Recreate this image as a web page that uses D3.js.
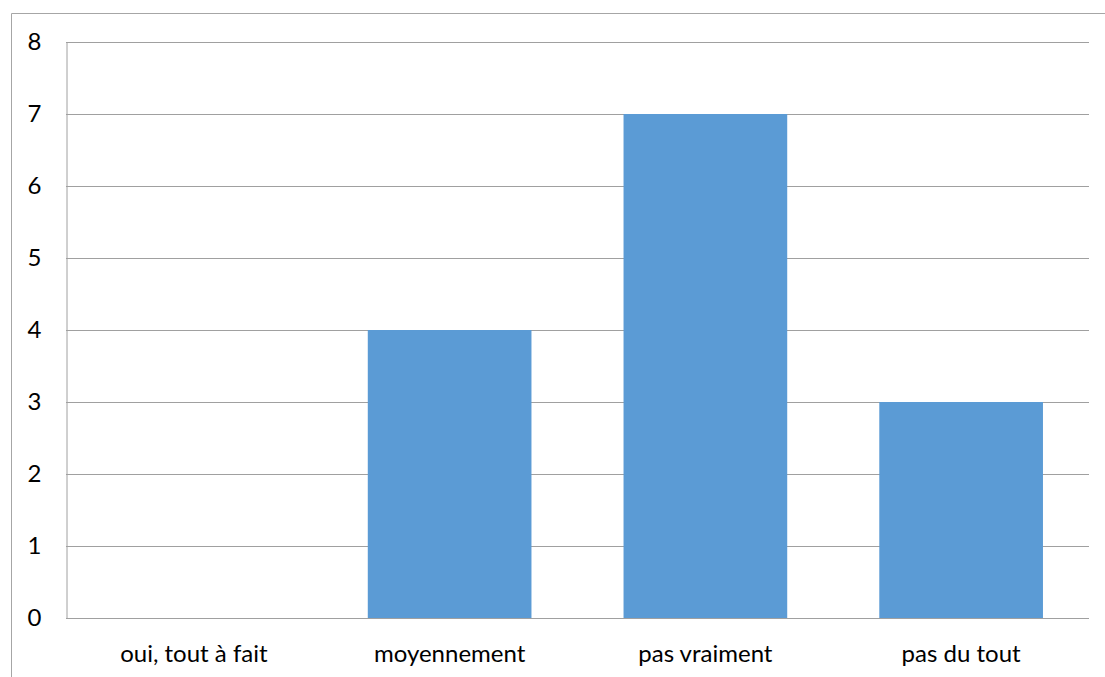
<!DOCTYPE html>
<html>
<head>
<meta charset="utf-8">
<script src="https://cdn.jsdelivr.net/npm/d3@7"></script>
<style>
  html, body { margin: 0; padding: 0; background: #fff; }
  svg { display: block; }
  text { font-family: Lato, "Open Sans", sans-serif; fill: #000; }
</style>
</head>
<body>
<svg id="chart" width="1105" height="677"></svg>
<script>
// Responses per answer option
const categories = ["oui, tout à fait", "moyennement", "pas vraiment", "pas du tout"];
const counts = [0, 4, 7, 3];
const yTicks = [0, 1, 2, 3, 4, 5, 6, 7, 8];

const svg = d3.select("#chart");
const W = 1105, H = 677;
const plot = { left: 66, right: 1089, top: 42, bottom: 618 };
const fontSize = "24px";

// Outer chart frame (left and top edges visible)
svg.append("path")
  .attr("d", `M11.5,${H} V13.5 H${W}`)
  .attr("fill", "none")
  .attr("stroke", "#a6a6a6")
  .attr("stroke-width", 1);

const x = d3.scaleBand()
  .domain(categories)
  .range([plot.left, plot.right])
  .paddingInner(0.36)
  .paddingOuter(0.18);

const y = d3.scaleLinear()
  .domain([0, 8])
  .range([plot.bottom, plot.top]);

// Horizontal gridlines
svg.append("g")
  .selectAll("line")
  .data(yTicks)
  .join("line")
  .attr("x1", plot.left)
  .attr("x2", plot.right)
  .attr("y1", d => Math.round(y(d)) + 0.5)
  .attr("y2", d => Math.round(y(d)) + 0.5)
  .attr("stroke", "#a0a0a0")
  .attr("stroke-width", 1);

// Bars
svg.append("g")
  .selectAll("rect")
  .data(categories.map((c, i) => ({ c, v: counts[i] })))
  .join("rect")
  .attr("x", d => x(d.c))
  .attr("width", x.bandwidth())
  .attr("y", d => y(d.v))
  .attr("height", d => y(0) - y(d.v))
  .attr("fill", "#5b9bd5");

// Baseline over bars
svg.append("line")
  .attr("x1", plot.left).attr("x2", plot.right)
  .attr("y1", Math.round(y(0)) + 0.5).attr("y2", Math.round(y(0)) + 0.5)
  .attr("stroke", "#a0a0a0");

// Left value axis
const yAxis = svg.append("g")
  .attr("transform", `translate(${plot.left + 0.5},0)`)
  .call(d3.axisLeft(y).tickValues(yTicks).tickSize(0).tickPadding(25).tickFormat(d3.format("d")));
yAxis.select(".domain").attr("stroke", "#a0a0a0");
yAxis.selectAll("text")
  .style("font-family", "Lato, sans-serif")
  .style("font-size", fontSize)
  .attr("fill", "#000");

// Category axis labels
const xAxis = svg.append("g")
  .attr("transform", `translate(0,${plot.bottom})`)
  .call(d3.axisBottom(x).tickSize(0));
xAxis.select(".domain").remove();
xAxis.selectAll("text")
  .attr("y", 44)
  .attr("dy", 0)
  .style("font-family", "Lato, sans-serif")
  .style("font-size", fontSize)
  .attr("fill", "#000");
</script>
</body>
</html>
